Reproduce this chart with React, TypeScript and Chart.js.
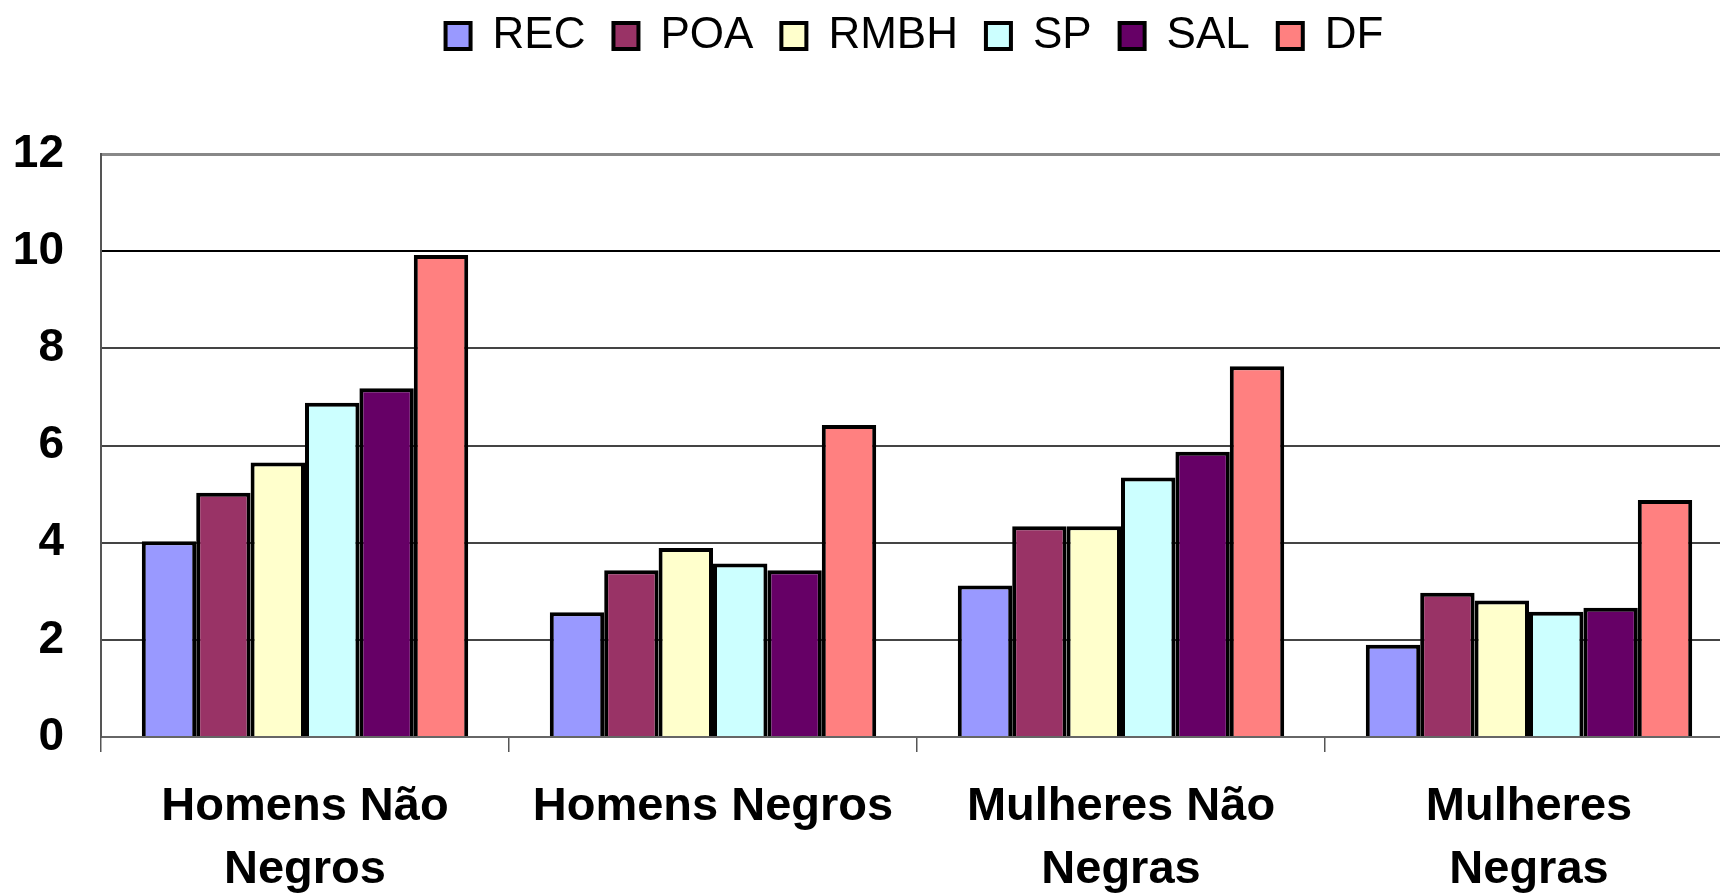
import React, { useEffect, useRef } from "react";
import { Chart, registerables } from "chart.js";

Chart.register(...registerables);

// ---- data ----
const categories: string[][] = [
  ["Homens Não", "Negros"],
  ["Homens Negros"],
  ["Mulheres Não", "Negras"],
  ["Mulheres", "Negras"],
];
const seriesNames = ["REC", "POA", "RMBH", "SP", "SAL", "DF"];
const seriesColors = ["#9999FF", "#993366", "#FFFFCC", "#CCFFFF", "#660066", "#FF8080"];
const REC = [4.03, 2.57, 3.12, 1.9];
const POA = [5.03, 3.43, 4.34, 2.97];
const RMBH = [5.65, 3.89, 4.34, 2.81];
const SP = [6.88, 3.57, 5.34, 2.58];
const SAL = [7.18, 3.43, 5.87, 2.66];
const DF = [9.92, 6.42, 7.63, 4.88];
const seriesValues = [REC, POA, RMBH, SP, SAL, DF];
const yMin = 0;
const yMax = 12;
const yStep = 2;

const FONT = "'Liberation Sans', Arial, Helvetica, sans-serif";
const LEGEND_HEIGHT = 154;

export default function App() {
  const ref = useRef<HTMLCanvasElement>(null);

  useEffect(() => {
    if (!ref.current) return;
    const layoutPlugin = {
      id: "legendLayout",
      beforeLayout(chart: any) {
        const lg = chart.legend;
        if (lg && !lg.__patched) {
          const fit = lg.fit.bind(lg);
          lg.fit = function () {
            fit();
            this.height = LEGEND_HEIGHT;
          };
          lg.__patched = true;
        }
      },
      afterLayout(chart: any) {
        const lg = chart.legend;
        if (!lg) return;
        lg.left += 42;
        lg.right += 42;
        lg.top -= 14;
        lg.bottom -= 14;
      },
    };

    const chart = new Chart(ref.current, {
      type: "bar",
      data: {
        labels: categories,
        datasets: seriesNames.map((name, i) => ({
          label: name,
          data: seriesValues[i],
          backgroundColor: seriesColors[i],
          borderColor: "#000000",
          borderWidth: 4,
          categoryPercentage: 0.8,
          barPercentage: 1.0,
        })),
      },
      options: {
        responsive: false,
        animation: false,
        layout: { padding: { left: 12, right: 0, top: 0, bottom: 0 } },
        plugins: {
          legend: {
            position: "top",
            labels: {
              boxWidth: 25,
              boxHeight: 26,
              padding: 28,
              color: "#000000",
              font: { family: FONT, size: 44 },
            },
          },
          tooltip: { enabled: false },
        },
        scales: {
          x: {
            afterFit: (scale: any) => {
              scale.height = 158;
            },
            grid: {
              offset: true,
              drawOnChartArea: false,
              drawTicks: true,
              tickLength: 15,
              color: "#555555",
              lineWidth: 1.5,
            },
            border: { color: "#666666", width: 2 },
            ticks: {
              color: "#000000",
              font: { family: FONT, size: 47, weight: "bold", lineHeight: 1.33 },
              padding: 24,
              maxRotation: 0,
              autoSkip: false,
            },
          },
          y: {
            min: yMin,
            max: yMax,
            afterFit: (scale: any) => {
              scale.width = 89;
            },
            ticks: {
              stepSize: yStep,
              color: "#000000",
              font: { family: FONT, size: 46, weight: "bold" },
              padding: 37,
            },
            grid: {
              drawTicks: false,
              color: (ctx: any) => {
                const v = ctx.tick ? ctx.tick.value : null;
                if (v === 12) return "#888888";
                if (v === 10) return "#000000";
                if (v === 0) return "rgba(0,0,0,0)";
                return "#444444";
              },
              lineWidth: (ctx: any) => {
                const v = ctx.tick ? ctx.tick.value : null;
                if (v === 12) return 3;
                return 2;
              },
            },
            border: { color: "#555555", width: 2 },
          },
        },
      },
      plugins: [layoutPlugin],
    } as any);

    return () => chart.destroy();
  }, []);

  return (
    <div
      style={{
        position: "absolute",
        left: 0,
        top: 0,
        width: 1720,
        height: 895,
        overflow: "hidden",
        background: "#ffffff",
      }}
    >
      <canvas ref={ref} width={1733} height={895} style={{ display: "block" }} />
    </div>
  );
}
